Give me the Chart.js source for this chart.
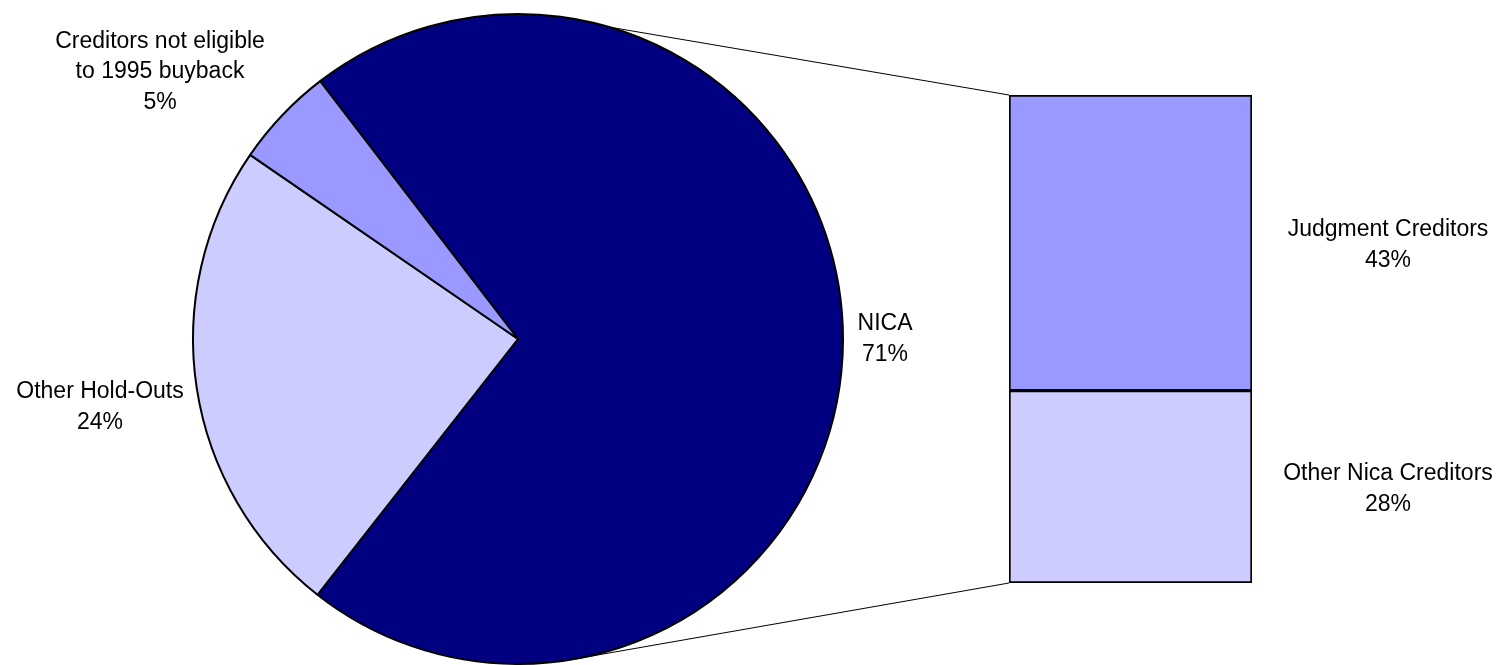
<!DOCTYPE html>
<html lang="en">
<head>
  <meta charset="UTF-8">
  <title>NICA bar of pie</title>
  <script src="https://cdn.jsdelivr.net/npm/chart.js"></script>
  <style>
    html, body { margin: 0; padding: 0; background: #fff; }
    #wrap { position: relative; width: 1506px; height: 665px; }
    #wrap canvas { position: absolute; left: 0; top: 0; }
  </style>
</head>
<body>
  <div id="wrap">
    <canvas id="pieChart" width="1506" height="665"></canvas>
    <canvas id="barChart" width="1506" height="665"></canvas>
  </div>

  <script>
    // main pie
    const pieLabels = ['NICA', 'Other Hold-Outs', 'Creditors not eligible to 1995 buyback'];
    const pieValues = [71, 24, 5];
    const pieColors = ['#000080', '#CCCCFF', '#9999FF'];

    // NICA split (bottom to top)
    const barLabels = ['Other Nica Creditors', 'Judgment Creditors'];
    const barValues = [28, 43];
    const barColors = ['#CCCCFF', '#9999FF'];

    const FONT = '23px "Liberation Sans", Arial, sans-serif';

    function drawLines(ctx, lines, x, y, gap) {
      ctx.save();
      ctx.font = FONT;
      ctx.fillStyle = '#000';
      ctx.textAlign = 'center';
      ctx.textBaseline = 'middle';
      const y0 = y - (lines.length - 1) * gap / 2;
      lines.forEach((t, i) => ctx.fillText(t, x, y0 + i * gap));
      ctx.restore();
    }

    const pieChart = new Chart(document.getElementById('pieChart'), {
      type: 'pie',
      data: {
        labels: pieLabels,
        datasets: [{
          data: pieValues,
          backgroundColor: pieColors,
          borderColor: '#000',
          borderWidth: 2
        }]
      },
      options: {
        responsive: false,
        animation: false,
        rotation: -37.5,
        layout: { padding: { left: 0, right: 470, top: 13, bottom: 0 } },
        plugins: { legend: { display: false }, tooltip: { enabled: false } }
      },
      plugins: [{
        id: 'pieLabels',
        afterDraw(chart) {
          const ctx = chart.ctx;
          drawLines(ctx, ['Creditors not eligible', 'to 1995 buyback', pieValues[2] + '%'], 160, 72, 30.5);
          drawLines(ctx, ['Other Hold-Outs', pieValues[1] + '%'], 100, 407, 30.5);
          drawLines(ctx, ['NICA', pieValues[0] + '%'], 885, 339, 30.5);
        }
      }]
    });

    new Chart(document.getElementById('barChart'), {
      type: 'bar',
      data: {
        labels: ['NICA'],
        datasets: barLabels.map((l, i) => ({
          label: l,
          data: [barValues[i]],
          backgroundColor: barColors[i],
          borderColor: '#000',
          borderWidth: 2,
          borderSkipped: false,
          barPercentage: 1,
          categoryPercentage: 1
        }))
      },
      options: {
        responsive: false,
        animation: false,
        layout: { padding: { left: 1009, right: 254, top: 95, bottom: 82 } },
        scales: {
          x: { stacked: true, display: false },
          y: { stacked: true, display: false, min: 0, max: barValues[0] + barValues[1] }
        },
        plugins: { legend: { display: false }, tooltip: { enabled: false } }
      },
      plugins: [{
        id: 'connectors',
        afterDraw(chart) {
          const ctx = chart.ctx;
          // lines from the NICA slice to the split bar
          const arc = pieChart.getDatasetMeta(0).data[0];
          const cx = arc.x, cy = arc.y, r = arc.outerRadius;
          const area = chart.chartArea;
          const pt = deg => [cx + r * Math.sin(deg * Math.PI / 180), cy - r * Math.cos(deg * Math.PI / 180)];
          const top = pt(16.3), bot = pt(169.7);
          ctx.save();
          ctx.strokeStyle = '#000';
          ctx.lineWidth = 1;
          ctx.beginPath();
          ctx.moveTo(top[0], top[1]); ctx.lineTo(area.left, area.top);
          ctx.moveTo(bot[0], bot[1]); ctx.lineTo(area.left, area.bottom);
          ctx.stroke();
          ctx.restore();

          drawLines(ctx, [barLabels[1], barValues[1] + '%'], 1388, 245, 31);
          drawLines(ctx, [barLabels[0], barValues[0] + '%'], 1388, 489, 31);
        }
      }]
    });
  </script>
</body>
</html>
